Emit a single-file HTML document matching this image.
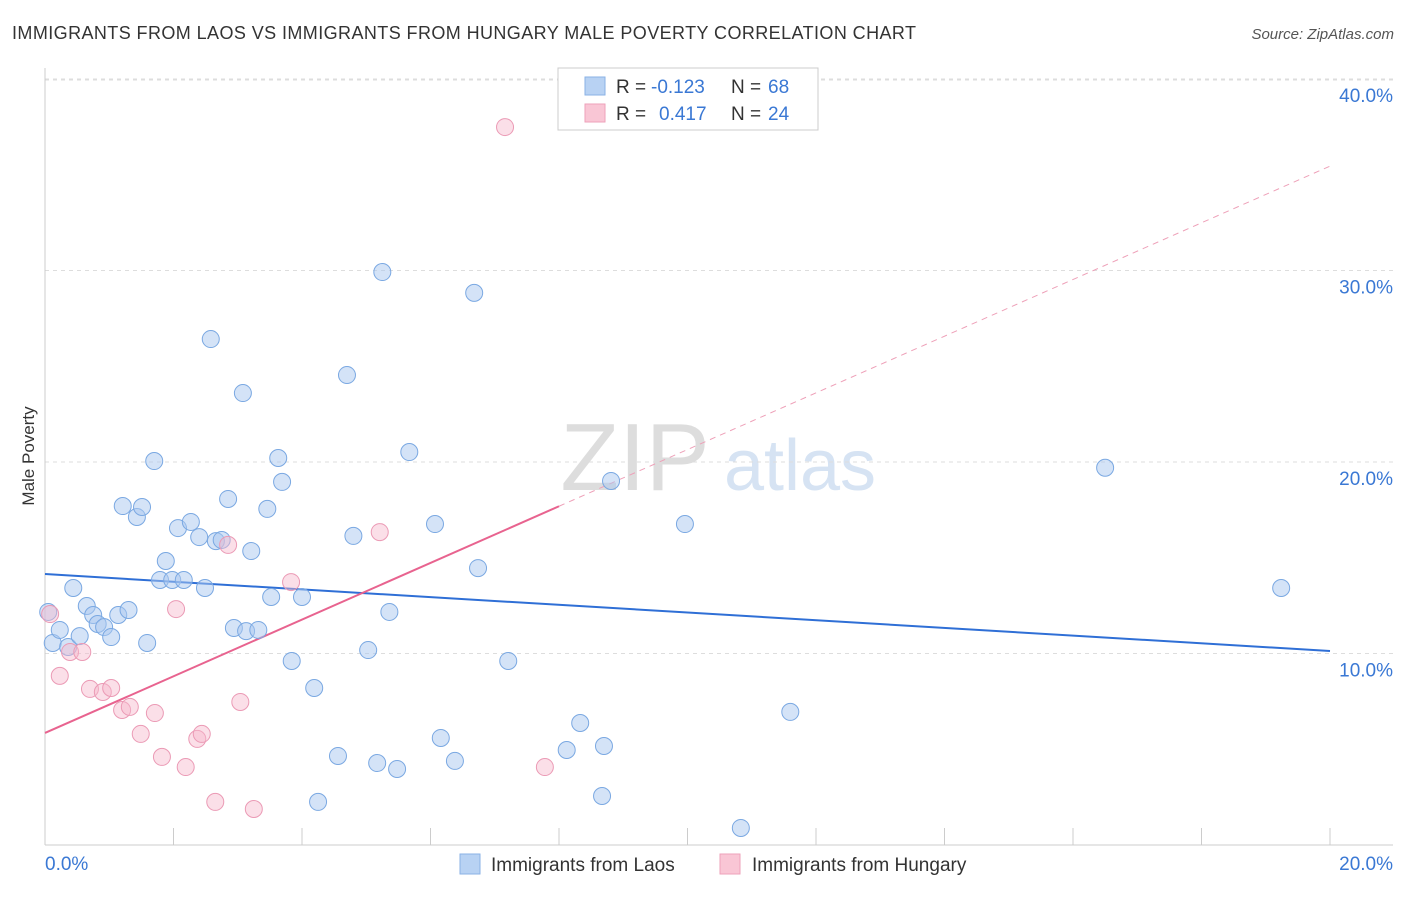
<!DOCTYPE html>
<html><head><meta charset="utf-8"><style>
body{margin:0;background:#fff;font-family:"Liberation Sans",sans-serif;}
svg text{font-family:"Liberation Sans",sans-serif;}
</style></head><body>
<svg id="chart" width="1406" height="892" xmlns="http://www.w3.org/2000/svg">
<text x="12" y="39" font-size="18" fill="#333" textLength="904">IMMIGRANTS FROM LAOS VS IMMIGRANTS FROM HUNGARY MALE POVERTY CORRELATION CHART</text>
<text x="1394" y="39" font-size="15" fill="#555" font-style="italic" text-anchor="end">Source: ZipAtlas.com</text>
<text transform="translate(34,456) rotate(-90)" font-size="17" fill="#333" text-anchor="middle">Male Poverty</text>
<g>
<text x="635" y="490" font-size="96" fill="#ddd" font-family="Liberation Serif,serif" text-anchor="middle">ZIP</text>
<text x="800" y="490" font-size="72" fill="#d6e3f3" text-anchor="middle">atlas</text>
</g>
<g id="grid"></g><g id="axes"></g><g id="lines"></g><g id="pts"></g>
<g>
<rect x="558" y="68" width="260" height="62" fill="#fff" stroke="#ccc"/>
<rect x="585" y="77" width="20" height="18" fill="#b8d2f3" stroke="#8ab2e6"/>
<rect x="585" y="104" width="20" height="18" fill="#f9c6d5" stroke="#eea1ba"/>
<text x="616" y="93" font-size="19" fill="#333">R =</text>
<text x="651" y="93" font-size="19" fill="#3a78d4">-0.123</text>
<text x="731" y="93" font-size="19" fill="#333">N =</text>
<text x="768" y="93" font-size="19" fill="#3a78d4">68</text>
<text x="616" y="120" font-size="19" fill="#333">R =</text>
<text x="659" y="120" font-size="19" fill="#3a78d4">0.417</text>
<text x="731" y="120" font-size="19" fill="#333">N =</text>
<text x="768" y="120" font-size="19" fill="#3a78d4">24</text>
</g>
<g>
<rect x="460" y="854" width="20" height="20" fill="#b8d2f3" stroke="#8ab2e6"/>
<text x="491" y="871" font-size="19" fill="#333">Immigrants from Laos</text>
<rect x="720" y="854" width="20" height="20" fill="#f9c6d5" stroke="#eea1ba"/>
<text x="752" y="871" font-size="19" fill="#333">Immigrants from Hungary</text>
</g>
</svg>
<script>
const yTicks=[10,20,30,40];
const yTickLabels=["10.0%","20.0%","30.0%","40.0%"];
const xTickLabels=["0.0%","20.0%"];
const laosX=[0.05,0.12,0.23,0.36,0.44,0.54,0.65,0.75,0.82,0.92,1.03,1.14,1.21,1.30,1.43,1.51,1.59,1.70,1.79,1.88,1.98,2.07,2.16,2.27,2.40,2.49,2.58,2.66,2.75,2.85,2.94,3.08,3.13,3.21,3.32,3.46,3.52,3.63,3.69,3.84,4.00,4.19,4.25,4.56,4.70,4.80,5.03,5.17,5.25,5.36,5.48,5.67,6.07,6.16,6.38,6.68,6.74,7.21,8.12,8.33,8.67,8.70,8.81,9.96,10.83,11.60,16.50,19.24];
const laosY=[12.17,10.55,11.23,10.34,13.42,10.91,12.48,12.01,11.54,11.38,10.86,12.01,17.70,12.27,17.13,17.65,10.55,20.05,13.84,14.83,13.84,16.55,13.84,16.87,16.08,13.42,26.42,15.87,15.93,18.07,11.33,23.60,11.17,15.35,11.23,17.55,12.95,20.21,18.96,9.61,12.95,8.20,2.25,4.65,24.54,16.14,10.18,4.28,29.92,12.17,3.97,20.52,16.76,5.59,4.39,28.83,14.46,9.61,4.96,6.37,2.56,5.17,19.01,16.76,0.89,6.95,19.70,13.42];
const hunX=[0.08,0.23,0.39,0.58,0.70,0.90,1.03,1.20,1.32,1.49,1.71,1.82,2.04,2.19,2.37,2.44,2.65,2.85,3.04,3.25,3.83,5.21,7.16,7.78];
const hunY=[12.06,8.83,10.08,10.08,8.15,7.99,8.20,7.05,7.21,5.80,6.89,4.60,12.32,4.07,5.54,5.80,2.25,15.67,7.47,1.88,13.73,16.34,37.49,4.07];
const laosFit=[14.15,-0.201];
const hunFit=[5.85,1.48];
const X=v=>45+v*64.25, Y=v=>845-v*19.15;
const NS="http://www.w3.org/2000/svg";
function mk(p,t,a){const e=document.createElementNS(NS,t);for(const k in a)e.setAttribute(k,a[k]);document.getElementById(p).appendChild(e);return e;}
let e=mk('grid','line',{x1:45,x2:1393,y1:80,y2:80,stroke:'#ddd','stroke-dasharray':'4,4'});


yTicks.forEach((t,i)=>{
 let g=mk('grid','line',{x1:45,x2:1393,y1:Y(t),y2:Y(t),stroke:'#ddd','stroke-dasharray':'4,4'});
 
 
 let l=mk('axes','text',{x:1393,y:Y(t)+23,'font-size':19,fill:'#3a78d4','text-anchor':'end'});l.textContent=yTickLabels[i];
 
 
});
e=mk('axes','line',{x1:45,x2:45,y1:68,y2:845,stroke:'#ccc'});


e=mk('axes','line',{x1:45,x2:1393,y1:845,y2:845,stroke:'#ccc'});


for(let k=0;k<=10;k++){let t=mk('axes','line',{x1:X(k*2),x2:X(k*2),y1:828,y2:845,stroke:'#ccc'});
 
 }
e=mk('axes','text',{x:45,y:870,'font-size':19,fill:'#3a78d4'});e.textContent=xTickLabels[0];


e=mk('axes','text',{x:1393,y:870,'font-size':19,fill:'#3a78d4','text-anchor':'end'});e.textContent=xTickLabels[1];


laosX.forEach((x,i)=>{let c=mk('pts','circle',{cx:X(x),cy:Y(laosY[i]),r:8.5,fill:'rgba(170,200,240,0.5)',stroke:'#7aa8e2','stroke-width':1});
 
 });
hunX.forEach((x,i)=>{let c=mk('pts','circle',{cx:X(x),cy:Y(hunY[i]),r:8.5,fill:'rgba(246,185,205,0.45)',stroke:'#eb9ab5','stroke-width':1});
 
 });
e=mk('lines','line',{x1:X(0),y1:Y(laosFit[0]),x2:X(20),y2:Y(laosFit[0]+laosFit[1]*20),stroke:'#2f6fd6','stroke-width':2});


e=mk('lines','line',{x1:X(0),y1:Y(hunFit[0]),x2:X(8),y2:Y(hunFit[0]+hunFit[1]*8),stroke:'#e8638f','stroke-width':2});


e=mk('lines','line',{x1:X(8),y1:Y(hunFit[0]+hunFit[1]*8),x2:X(20),y2:Y(hunFit[0]+hunFit[1]*20),stroke:'#eea0b8','stroke-width':1,'stroke-dasharray':'6,5'});


</script>
</body></html>
